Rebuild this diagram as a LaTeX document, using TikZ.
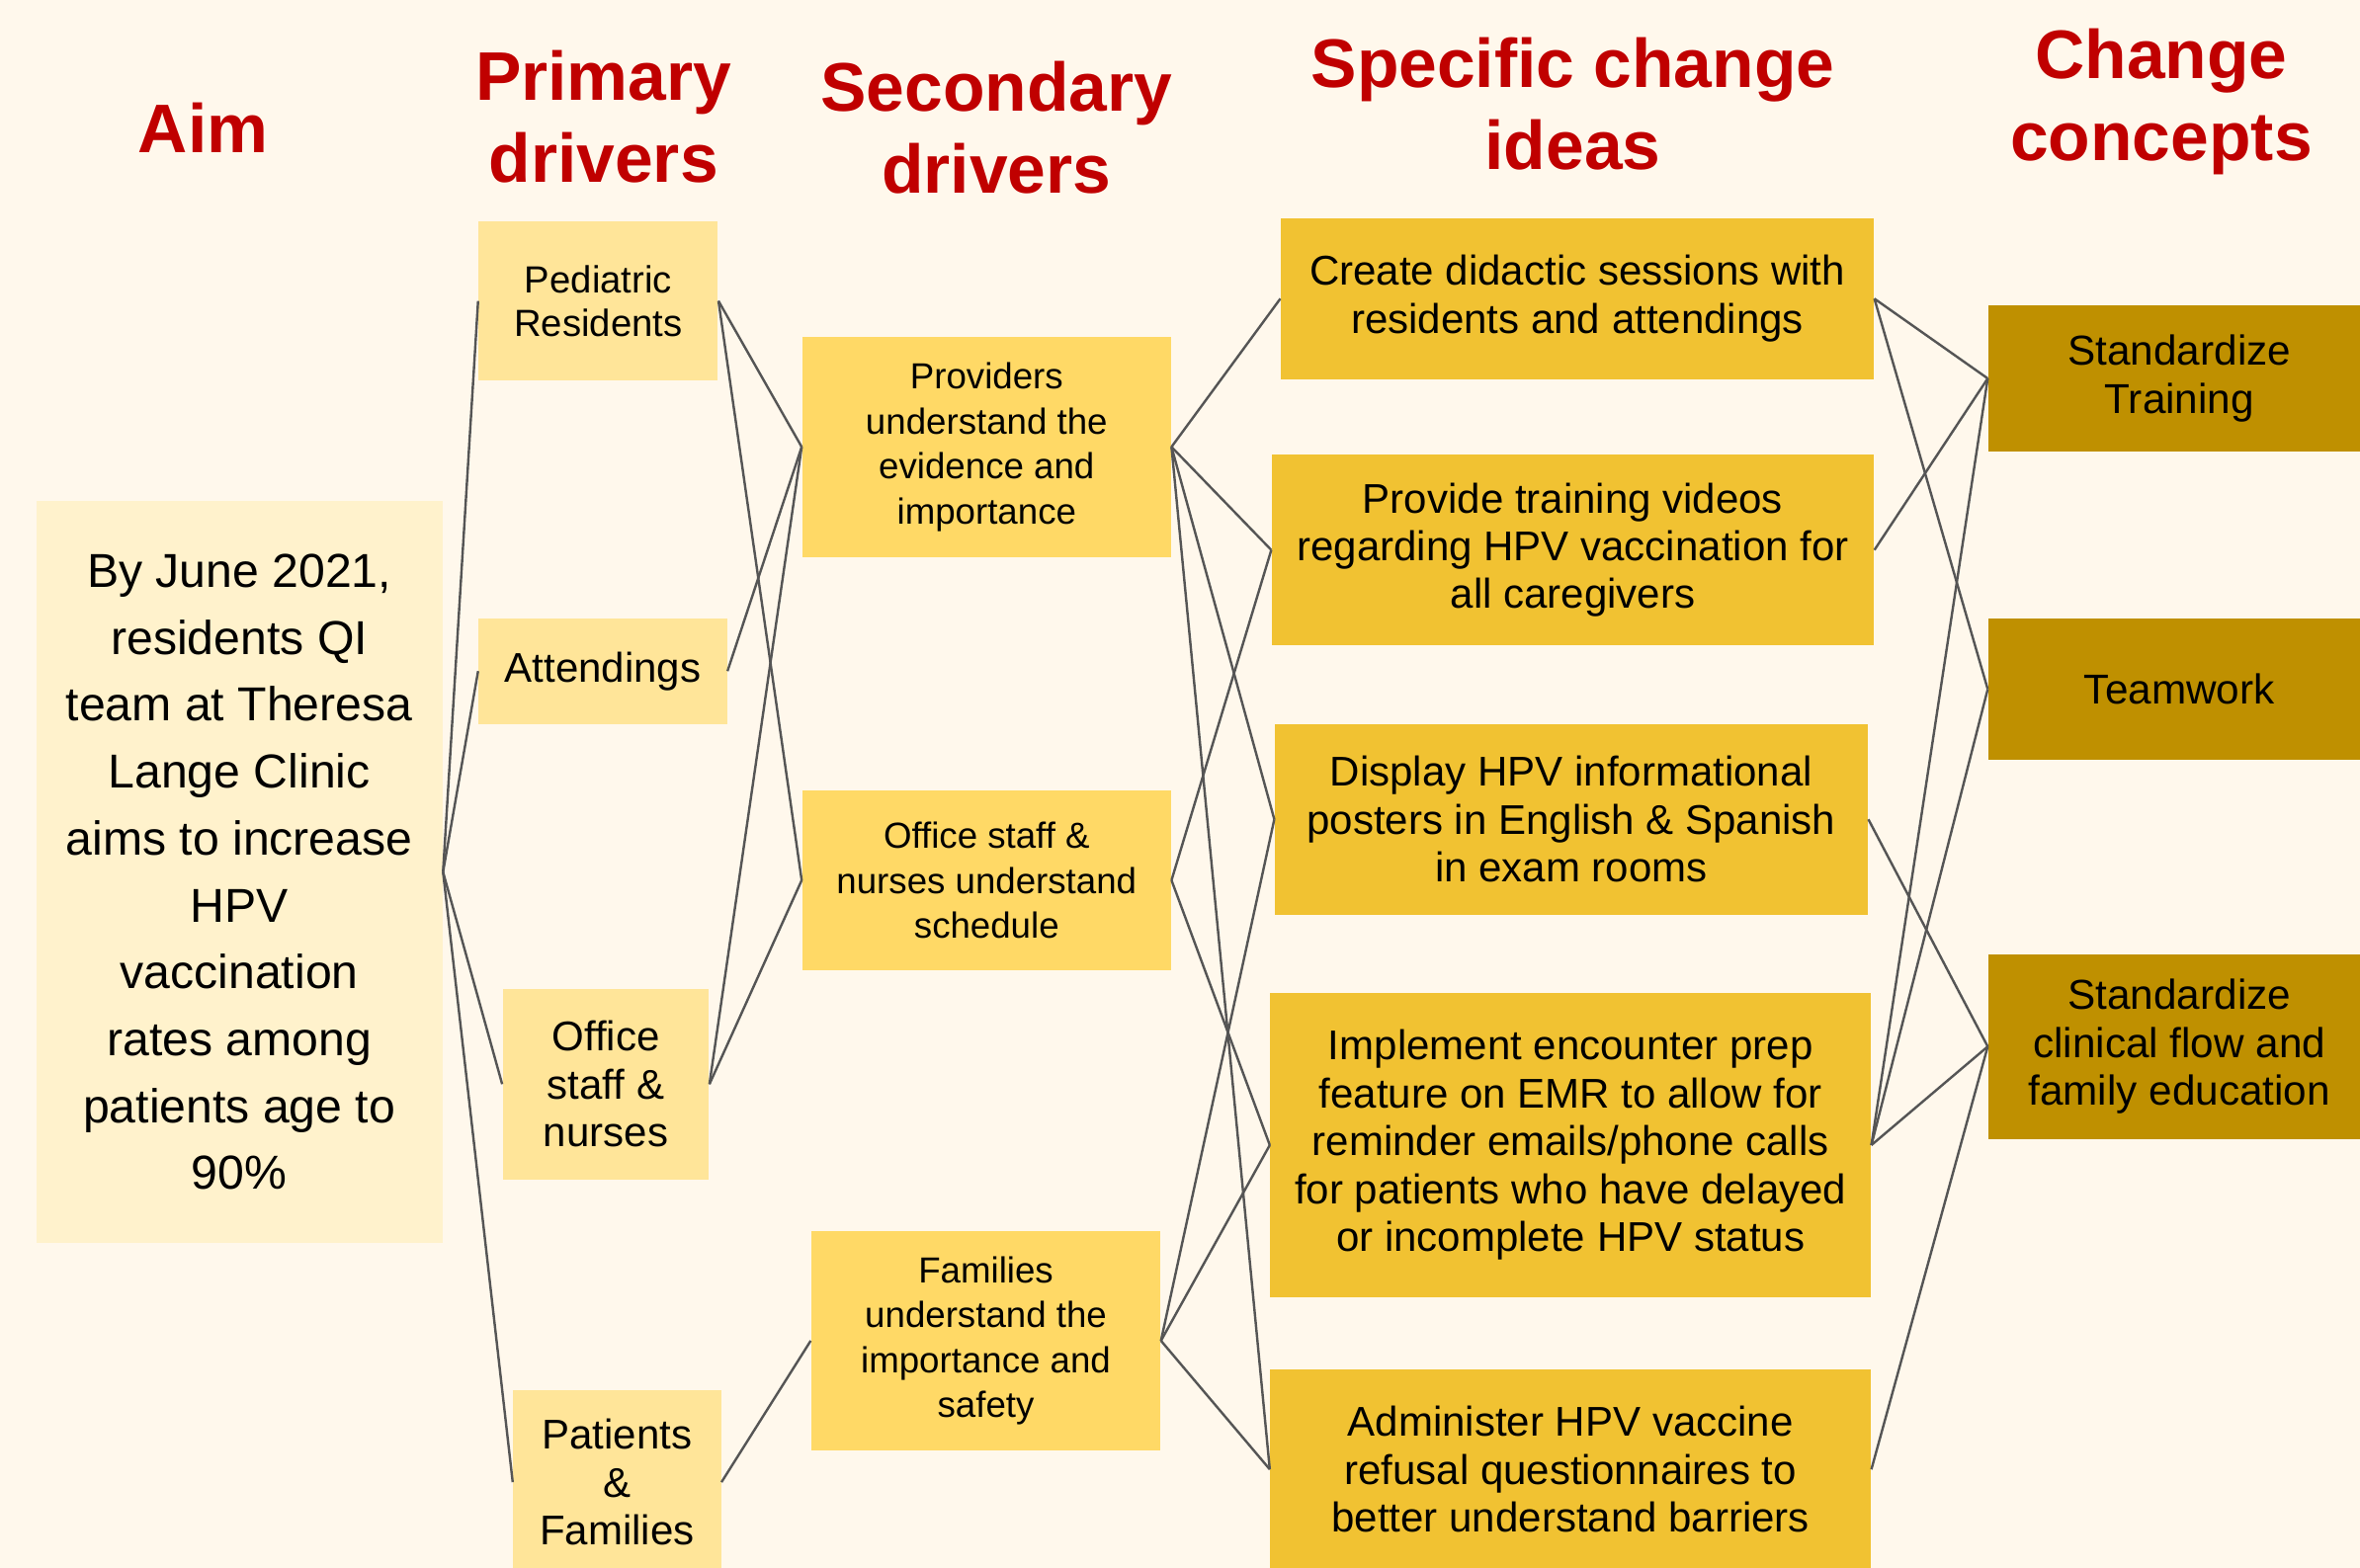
\documentclass[tikz,border=0pt]{standalone}
\usepackage{fontspec}
\setmainfont{Liberation Sans}
\definecolor{paper}{HTML}{FFF8EC}
\definecolor{aimfill}{HTML}{FFF2CC}
\definecolor{primfill}{HTML}{FFE599}
\definecolor{secfill}{HTML}{FFD966}
\definecolor{ideafill}{HTML}{F1C232}
\definecolor{conceptfill}{HTML}{BF9000}
\definecolor{headred}{HTML}{C00000}
\definecolor{wire}{HTML}{555555}

\begin{document}
\begin{tikzpicture}[
  x=0.2mm,y=-0.2mm,
  box/.style={rectangle,inner sep=0pt,align=center},
  aimbox/.style={box,fill=aimfill,font=\fontsize{18}{25.3}\selectfont},
  prim/.style={box,fill=primfill,font=\fontsize{15.7}{18.1}\selectfont},
  sec/.style={box,fill=secfill,font=\fontsize{13.7}{17}\selectfont},
  idea/.style={box,fill=ideafill,font=\fontsize{15.7}{18.1}\selectfont},
  concept/.style={box,fill=conceptfill,font=\fontsize{15.8}{18.1}\selectfont},
  hdr/.style={align=center,text=headred,font=\fontsize{26}{31}\selectfont\bfseries},
  link/.style={draw=wire,line width=0.9pt}
]
\useasboundingbox (0,0) rectangle (1568,1042);
\clip (0,0) rectangle (1568,1042);
\fill[paper] (0,0) rectangle (1568,1042);
\node[hdr] (h1) at (135,85) {Aim};
\node[hdr] (h2) at (401,77.5) {Primary\\drivers};
\node[hdr] (h3) at (662,84.5) {Secondary\\drivers};
\node[hdr] (h4) at (1045,69) {Specific change\\ideas};
\node[hdr] (h5) at (1436,67.5) {Change\\concepts};
\node[aimbox,minimum width=54mm,minimum height=98.6mm] (aim) at (159,579.5) {By June 2021,\\residents QI\\team at Theresa\\Lange Clinic\\aims to increase\\HPV\\vaccination\\rates among\\patients age to\\90\%};
\node[prim,minimum width=31.8mm,minimum height=21.2mm,font=\fontsize{14.3}{16.4}\selectfont] (p1) at (397.5,200) {Pediatric\\Residents};
\node[prim,minimum width=33mm,minimum height=14mm] (p2) at (400.5,446) {Attendings};
\node[prim,minimum width=27.4mm,minimum height=25.4mm] (p3) at (402.5,720.5) {Office\\staff \&\\nurses};
\node[prim,minimum width=27.6mm,minimum height=24.4mm] (p4) at (410,985) {Patients\\\&\\Families};
\node[sec,minimum width=49mm,minimum height=29.2mm] (s1) at (655.5,297) {Providers\\understand the\\evidence and\\importance};
\node[sec,minimum width=49mm,minimum height=24mm] (s2) at (655.5,585) {Office staff \&\\nurses understand\\schedule};
\node[sec,minimum width=46.4mm,minimum height=29.2mm] (s3) at (655,891) {Families\\understand the\\importance and\\safety};
\node[idea,minimum width=78.8mm,minimum height=21.4mm] (i1) at (1048,198.5) {Create didactic sessions with\\residents and attendings};
\node[idea,minimum width=80mm,minimum height=25.4mm] (i2) at (1045,365.5) {Provide training videos\\regarding HPV vaccination for\\all caregivers};
\node[idea,minimum width=78.8mm,minimum height=25.4mm] (i3) at (1044,544.5) {Display HPV informational\\posters in English \& Spanish\\in exam rooms};
\node[idea,minimum width=79.8mm,minimum height=40.4mm] (i4) at (1043.5,761) {Implement encounter prep\\feature on EMR to allow for\\reminder emails/phone calls\\for patients who have delayed\\or incomplete HPV status};
\node[idea,minimum width=79.8mm,minimum height=26.6mm] (i5) at (1043.5,976.5) {Administer HPV vaccine\\refusal questionnaires to\\better understand barriers};
\node[concept,minimum width=50.8mm,minimum height=19.4mm] (c1) at (1448,251.5) {Standardize\\Training};
\node[concept,minimum width=50.8mm,minimum height=18.8mm] (c2) at (1448,458) {Teamwork};
\node[concept,minimum width=50.8mm,minimum height=24.6mm] (c3) at (1448,695.5) {Standardize\\clinical flow and\\family education};
\foreach \b in {p1,p2,p3,p4} \draw[link] (aim.east)--(\b.west);
\foreach \a/\b in {p1/s1,p1/s2,p2/s1,p3/s1,p3/s2,p4/s3} \draw[link] (\a.east)--(\b.west);
\foreach \a/\b in {s1/i1,s1/i2,s1/i3,s1/i5,s2/i2,s2/i4,s3/i3,s3/i4,s3/i5} \draw[link] (\a.east)--(\b.west);
\foreach \a/\b in {i1/c1,i1/c2,i2/c1,i3/c3,i4/c1,i4/c2,i4/c3,i5/c3} \draw[link] (\a.east)--(\b.west);
\end{tikzpicture}
\end{document}
